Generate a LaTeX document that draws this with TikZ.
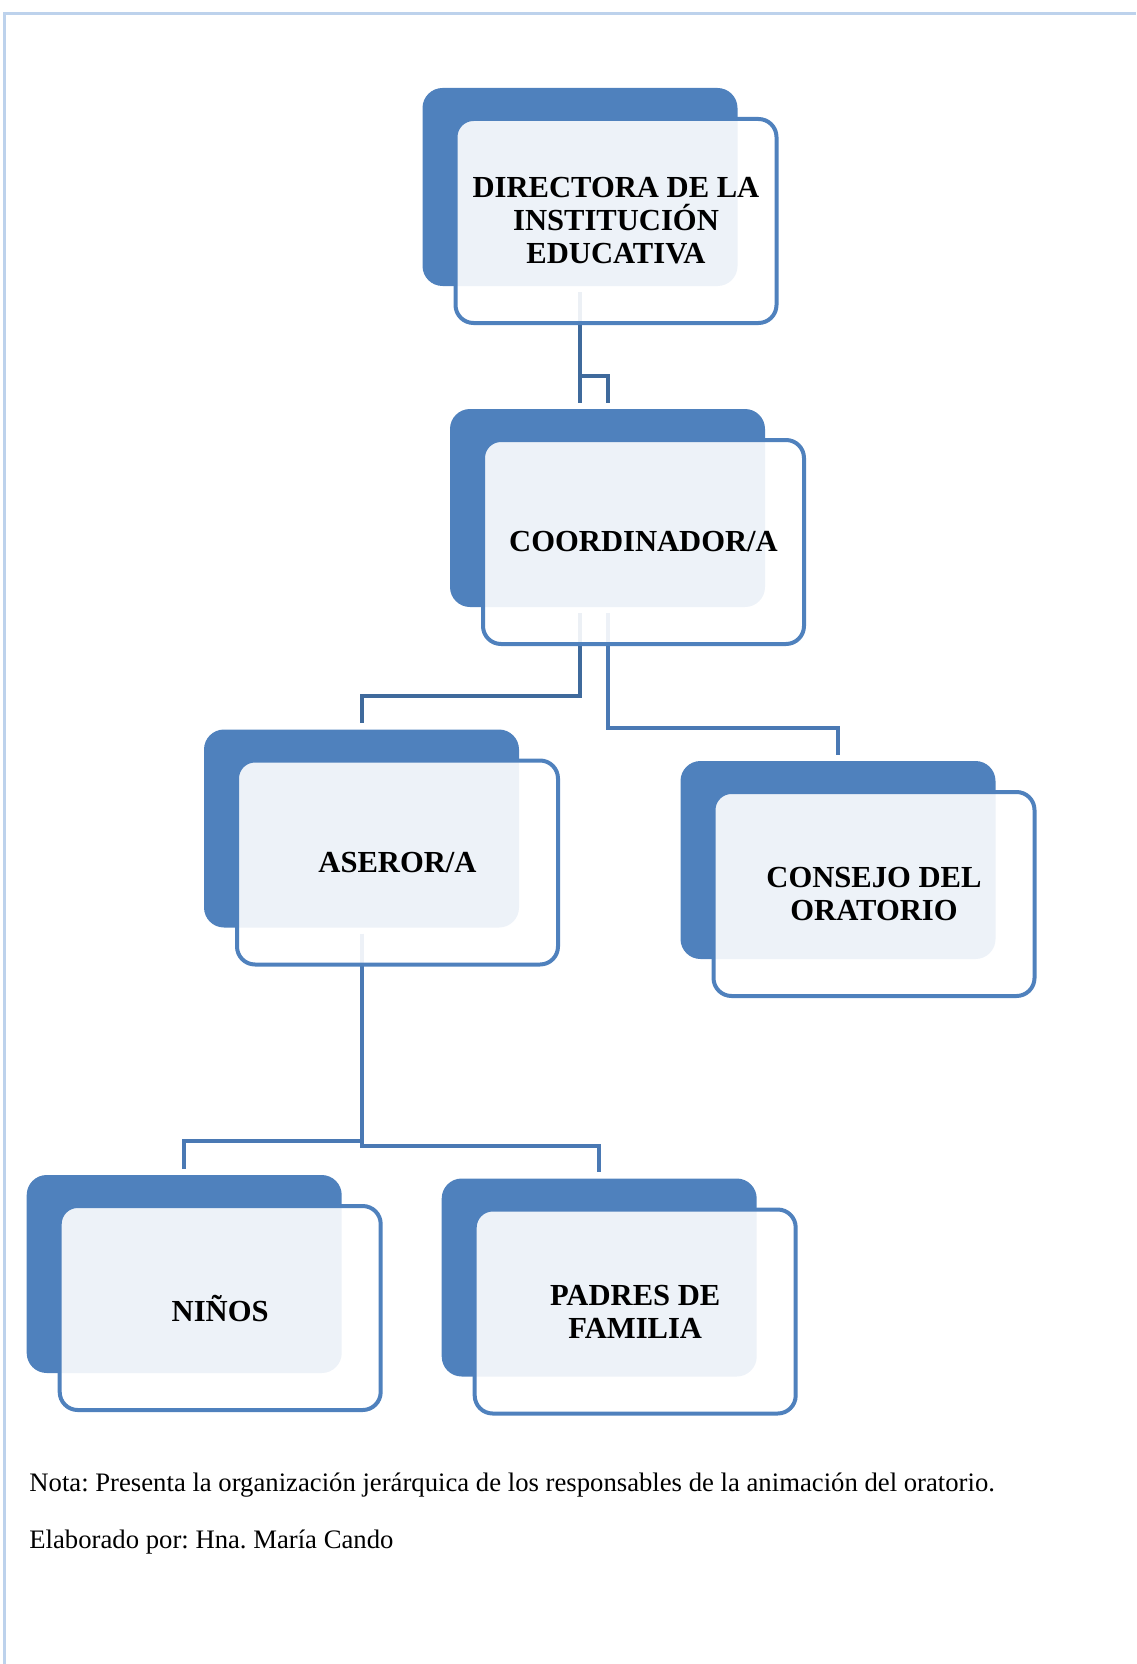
\documentclass[tikz,border=0pt]{standalone}
\usepackage{fontspec}
\setmainfont{Liberation Serif}
\usetikzlibrary{positioning}
\definecolor{boxblue}{HTML}{4F81BD}
\definecolor{linkdark}{HTML}{3F6A9C}
\definecolor{linkblue}{HTML}{4A79B4}
\definecolor{framecol}{HTML}{BDD2EC}
\frenchspacing

\begin{document}
\begin{tikzpicture}[x=0.5pt,y=-0.5pt,
      backbox/.style={
         rectangle,
         rounded corners=10pt,
         fill=boxblue,
         inner sep=0pt,
         minimum width=157.5pt,
         minimum height=99pt
      },
      frontbox/.style={
         rectangle,
         rounded corners=9pt,
         draw=boxblue,
         line width=2pt,
         fill=white,fill opacity=0.9,text opacity=1,
         inner sep=0pt,
         minimum width=160.5pt,
         minimum height=102pt,
         align=center,
         font=\fontsize{15.3}{16.5}\selectfont\bfseries
      },
      link/.style={line width=2pt,draw=linkblue,shorten <=3pt,shorten >=3pt},
      note/.style={anchor=base west,inner sep=0pt,font=\fontsize{13.35}{15}\selectfont}
    ]
    \useasboundingbox (0,0) rectangle (1136,1664);
    \draw[framecol,line width=1.2pt] (4.5,1664) -- (4.5,13.5) -- (1136,13.5);

    % back plates
    \node (dirback) [backbox] at (580,187) {};
    \node (coordback) [backbox] at (607.5,508) {};
    \node (aserback) [backbox] at (361.5,828.5) {};
    \node (consejoback) [backbox] at (838,860) {};
    \node (ninosback) [backbox] at (184.2,1274) {};
    \node (padresback) [backbox] at (599.2,1277.5) {};

    % connectors
    \coordinate (dirknee) at ([yshift=-45pt]dirback.south);
    \draw[link,draw=linkdark] (dirback.south) -- (dirknee) -| (coordback.north);
    \draw[link,draw=linkdark,shorten <=0pt] (dirknee) -- (dirknee |- coordback.north);
    \draw[link,draw=linkdark] ([xshift=-14pt]coordback.south) -- ++(0,89) -| (aserback.north);
    \draw[link] (coordback.south) -- ++(0,121) -| (consejoback.north);
    \draw[link] (aserback.south) -- ++(0,213.5) -| (ninosback.north);
    \draw[link] (aserback.south) -- ++(0,218.5) -| (padresback.north);

    % front boxes
    \node (dir) [frontbox] at ([xshift=18pt,yshift=-17pt]dirback.center) {DIRECTORA DE LA\\INSTITUCIÓN\\EDUCATIVA};
    \node (coord) [frontbox] at ([xshift=18pt,yshift=-17pt]coordback.center) {COORDINADOR/A};
    \node (aser) [frontbox] at ([xshift=18pt,yshift=-17pt]aserback.center) {ASEROR/A};
    \node (consejo) [frontbox] at ([xshift=18pt,yshift=-17pt]consejoback.center) {CONSEJO DEL\\ORATORIO};
    \node (ninos) [frontbox] at ([xshift=18pt,yshift=-17pt]ninosback.center) {NIÑOS};
    \node (padres) [frontbox] at ([xshift=18pt,yshift=-17pt]padresback.center) {PADRES DE\\FAMILIA};

    \node (nota) [note] at (29,1491) {Nota: Presenta la organización jerárquica de los responsables de la animación del oratorio.};
    \node (autor) [note] at (29,1548) {Elaborado por: Hna. María Cando};
\end{tikzpicture}
\end{document}
